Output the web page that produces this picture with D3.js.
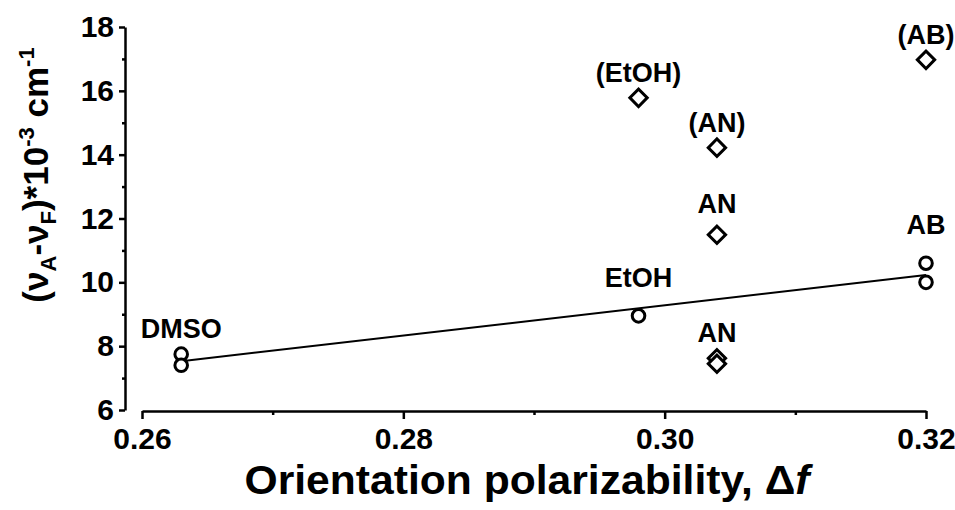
<!DOCTYPE html>
<html>
<head>
<meta charset="utf-8">
<script src="https://cdn.jsdelivr.net/npm/d3@7"></script>
<style>
  body { margin: 0; background: #fff; }
  text { font-family: "Liberation Sans", Arial, sans-serif; font-weight: bold; fill: #000; }
</style>
</head>
<body>
<svg id="chart"></svg>
<script>
// circles: stokes shift of the solvents, fitted with a straight line
const circleX = [0.263, 0.263, 0.298, 0.32, 0.32];
const circleY = [7.75, 7.4, 8.95, 10.6, 10.0];
const circleLabel = ['DMSO', '', 'EtOH', 'AB', ''];

// diamonds: values in brackets and the second AN set
const diamondX = [0.298, 0.304, 0.304, 0.304, 0.304, 0.32];
const diamondY = [15.78, 14.22, 11.49, 7.62, 7.45, 16.97];
const diamondLabel = ['(EtOH)', '(AN)', 'AN', 'AN', '', '(AB)'];

const xMajorTicks = [0.26, 0.28, 0.30, 0.32];
const xMinorTicks = [0.27, 0.29, 0.31];
const yMajorTicks = [6, 8, 10, 12, 14, 16, 18];
const yMinorTicks = [7, 9, 11, 13, 15, 17];

const width = 955;
const height = 510;

const svg = d3.select('#chart')
  .attr('width', width)
  .attr('height', height)
  .attr('viewBox', [0, 0, width, height]);

const x = d3.scaleLinear().domain([0.26, 0.32]).range([142, 926]);
const y = d3.scaleLinear().domain([6, 18]).range([410, 27]);

const axisX = 125;   // y axis sits apart from the x axis
const axisY = 411;

// y axis
const gy = svg.append('g').attr('transform', `translate(${axisX},0)`);
gy.call(d3.axisLeft(y).tickValues(yMajorTicks).tickSize(6).tickSizeOuter(0).tickPadding(5)
  .tickFormat(d3.format('d')));
gy.append('g').call(d3.axisLeft(y).tickValues(yMinorTicks).tickSize(3).tickFormat(''))
  .call(g => g.select('.domain').remove());
gy.selectAll('text').attr('font-size', 30).attr('font-family', null).attr('fill', '#000');

// x axis
const gx = svg.append('g').attr('transform', `translate(0,${axisY})`);
gx.call(d3.axisBottom(x).tickValues(xMajorTicks).tickSize(8).tickSizeOuter(0).tickPadding(9)
  .tickFormat(d3.format('.2f')));
gx.append('g').call(d3.axisBottom(x).tickValues(xMinorTicks).tickSize(4).tickFormat(''))
  .call(g => g.select('.domain').remove());
gx.selectAll('text').attr('font-size', 30).attr('font-family', null).attr('fill', '#000');

svg.selectAll('.domain, .tick line').attr('stroke', '#000').attr('stroke-width', 2.5);

// least squares line through the circles
const mx = d3.mean(circleX), my = d3.mean(circleY);
const slope = d3.sum(circleX, (d, i) => (d - mx) * (circleY[i] - my)) /
  d3.sum(circleX, d => (d - mx) ** 2);
const x0 = d3.min(circleX), x1 = d3.max(circleX);
svg.append('line')
  .attr('x1', x(x0)).attr('y1', y(my + slope * (x0 - mx)))
  .attr('x2', x(x1)).attr('y2', y(my + slope * (x1 - mx)))
  .attr('stroke', '#000').attr('stroke-width', 2);

const circles = circleX.map((d, i) => ({ x: d, y: circleY[i], label: circleLabel[i] }));
const diamonds = diamondX.map((d, i) => ({ x: d, y: diamondY[i], label: diamondLabel[i] }));

svg.append('g').selectAll('circle').data(circles).join('circle')
  .attr('cx', d => x(d.x)).attr('cy', d => y(d.y)).attr('r', 6.3)
  .attr('fill', '#fff').attr('stroke', '#000').attr('stroke-width', 3);

svg.append('g').selectAll('path').data(diamonds).join('path')
  .attr('d', d3.symbol(d3.symbolSquare, 150))
  .attr('transform', d => `translate(${x(d.x)},${y(d.y)}) rotate(45)`)
  .attr('fill', '#fff').attr('stroke', '#000').attr('stroke-width', 3);

// point labels sit over the top point of each group
const lift = { EtOH: 29, AB: 29 };
const labelled = circles.concat(diamonds).filter(d => d.label);
svg.append('g').selectAll('text').data(labelled).join('text')
  .attr('x', d => x(d.x))
  .attr('y', d => y(d.y) - (lift[d.label] || (d.y > 11 && d.label === 'AN' ? 22 : 16)))
  .attr('text-anchor', 'middle')
  .attr('font-size', 27)
  .text(d => d.label);

// axis titles
svg.append('text')
  .attr('x', 527).attr('y', 494)
  .attr('text-anchor', 'middle')
  .attr('font-size', 40)
  .attr('textLength', 565)
  .attr('lengthAdjust', 'spacingAndGlyphs')
  .call(t => {
    t.append('tspan').text('Orientation polarizability, \u0394');
    t.append('tspan').attr('font-style', 'italic').text('f');
  });

const yt = svg.append('text')
  .attr('transform', 'translate(48,175) rotate(-90)')
  .attr('text-anchor', 'middle')
  .attr('font-size', 35);
yt.append('tspan').text('(\u03bd');
yt.append('tspan').attr('font-size', 22).attr('dy', 8).text('A');
yt.append('tspan').attr('dy', -8).text('-\u03bd');
yt.append('tspan').attr('font-size', 22).attr('dy', 8).text('F');
yt.append('tspan').attr('dy', -8).text(')*10');
yt.append('tspan').attr('font-size', 22).attr('dy', -14).text('-3');
yt.append('tspan').attr('dy', 14).text(' cm');
yt.append('tspan').attr('font-size', 22).attr('dy', -14).text('-1');
</script>
</body>
</html>
